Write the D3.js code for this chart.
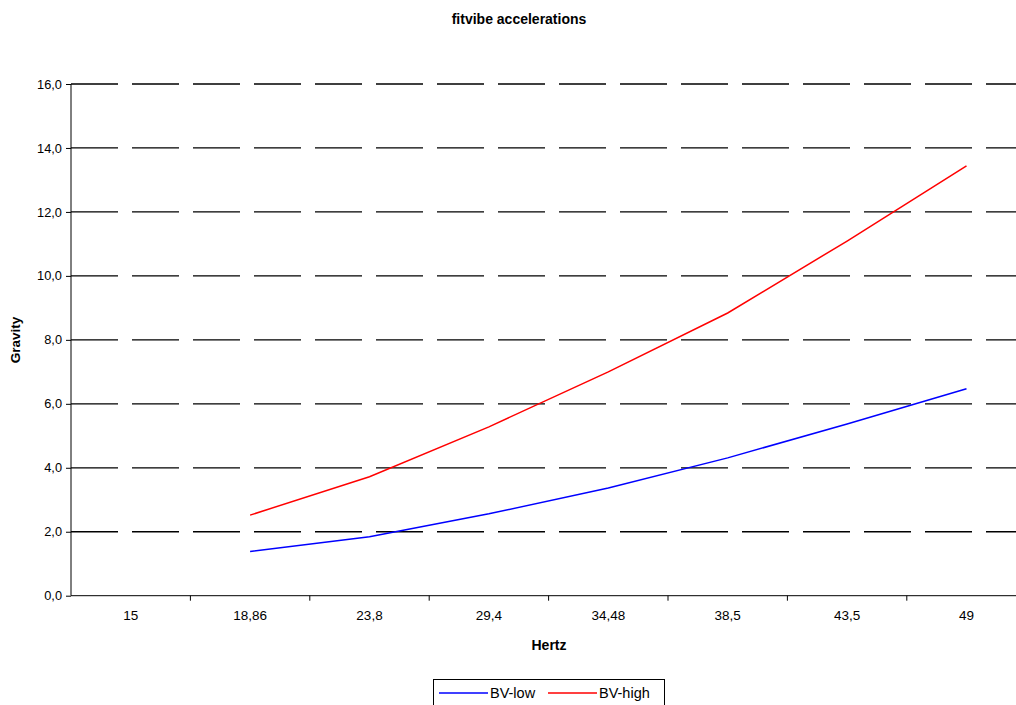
<!DOCTYPE html>
<html>
<head>
<meta charset="utf-8">
<script src="https://cdn.jsdelivr.net/npm/d3@7"></script>
<style>
  html, body { margin: 0; padding: 0; background: #fff; }
  svg { display: block; font-family: "Liberation Sans", Arial, sans-serif; }
</style>
</head>
<body>
<svg id="chart" width="1016" height="705"></svg>
<script>
const categories = ["15", "18,86", "23,8", "29,4", "34,48", "38,5", "43,5", "49"];
const bvLow  = [null, 1.38, 1.84, 2.56, 3.37, 4.31, 5.37, 6.47];
const bvHigh = [null, 2.52, 3.72, 5.28, 7.00, 8.84, 11.09, 13.44];
const yTicks = [0, 2, 4, 6, 8, 10, 12, 14, 16];
const seriesNames = ["BV-low", "BV-high"];
const seriesColors = ["#0000ff", "#ff0000"];

(function () {
const svg = d3.select("#chart");
const mLeft = 71, mTop = 84, mBottom = 595.7, bandW = 119.4;
const mRight = mLeft + bandW * categories.length;

const x = d3.scaleBand().domain(categories).range([mLeft, mRight]).padding(0);
const y = d3.scaleLinear().domain([0, 16]).range([mBottom, mTop]);
const fmt = v => d3.format(".1f")(v).replace(".", ",");

// title
svg.append("text").attr("x", 519).attr("y", 24).attr("text-anchor", "middle")
  .attr("font-size", 14).attr("font-weight", "bold").text("fitvibe accelerations");

// gridlines (dashed)
svg.append("g").selectAll("line").data(yTicks.filter(d => d > 0)).join("line")
  .attr("x1", mLeft).attr("x2", mRight)
  .attr("y1", d => y(d)).attr("y2", d => y(d))
  .attr("stroke", "#000").attr("stroke-width", 1.3)
  .attr("stroke-dasharray", "47,14");

// y axis
const yAxis = d3.axisLeft(y).tickValues(yTicks).tickFormat(fmt).tickSize(5).tickPadding(4);
const gy = svg.append("g").attr("transform", `translate(${mLeft},0)`).call(yAxis);
gy.select(".domain").attr("stroke", "#000").attr("d", `M0,${mTop}V${mBottom}`);
gy.selectAll(".tick line").attr("stroke", "#000");
gy.selectAll("text").attr("font-size", 12.8).attr("fill", "#000").attr("font-family", "Liberation Sans, Arial, sans-serif");

// x axis: labels centred in bands, ticks on band edges
const xAxis = d3.axisBottom(x).tickSize(0).tickPadding(15);
const gx = svg.append("g").attr("transform", `translate(0,${mBottom})`).call(xAxis);
gx.select(".domain").attr("stroke", "#000").attr("d", `M${mLeft},0H${mRight}`);
gx.selectAll("text").attr("font-size", 13.5).attr("fill", "#000").attr("font-family", "Liberation Sans, Arial, sans-serif");
svg.append("g").selectAll("line").data(categories.slice(1)).join("line")
  .attr("x1", d => x(d)).attr("x2", d => x(d))
  .attr("y1", mBottom).attr("y2", mBottom + 5).attr("stroke", "#000");

// axis titles
svg.append("text").attr("x", 549).attr("y", 650).attr("text-anchor", "middle")
  .attr("font-size", 14).attr("font-weight", "bold").text("Hertz");
svg.append("text").attr("transform", "translate(20,340) rotate(-90)").attr("text-anchor", "middle")
  .attr("font-size", 13.5).attr("font-weight", "bold").text("Gravity");

// lines
const line = d3.line()
  .defined(d => d.v != null)
  .x(d => x(d.c) + x.bandwidth() / 2)
  .y(d => y(d.v));
[bvLow, bvHigh].forEach((vals, i) => {
  svg.append("path")
    .datum(categories.map((c, j) => ({ c, v: vals[j] })))
    .attr("fill", "none").attr("stroke", seriesColors[i]).attr("stroke-width", 1.5)
    .attr("d", line);
});

// legend
const lg = svg.append("g");
lg.append("rect").attr("x", 433.5).attr("y", 679.5).attr("width", 231).attr("height", 40)
  .attr("fill", "#fff").attr("stroke", "#000");
const lx = [439, 548];
seriesNames.forEach((n, i) => {
  lg.append("line").attr("x1", lx[i]).attr("x2", lx[i] + 49).attr("y1", 693).attr("y2", 693)
    .attr("stroke", seriesColors[i]).attr("stroke-width", 1.3);
  lg.append("text").attr("x", lx[i] + 51).attr("y", 698).attr("font-size", 14.5).text(n);
});
})();
</script>
</body>
</html>
